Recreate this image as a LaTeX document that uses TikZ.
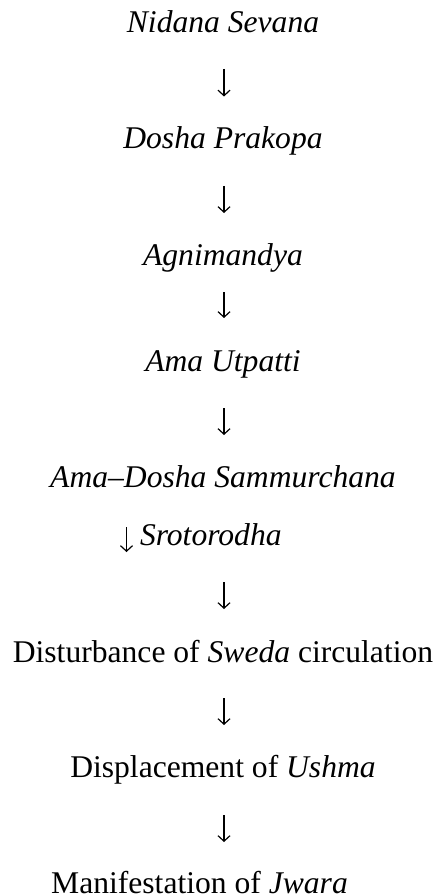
\documentclass[tikz,border=0pt]{standalone}
\usepackage{fontspec}
\usetikzlibrary{arrows.meta}
\setmainfont{Liberation Serif}
\begin{document}
\begin{tikzpicture}[x=1pt,y=-1pt,
  every node/.style={inner sep=0pt, outer sep=0pt, font=\fontsize{31.6}{38}\selectfont},
  stage/.style={anchor=base},
  flow/.style={line width=1.2pt, -{Straight Barb[length=5.5pt,width=12pt,line width=1.2pt]}}]
\useasboundingbox (0,0) rectangle (435,896);
\node[stage] (n1) at (223,33) {\textit{Nidana Sevana}};
\node[stage] (n2) at (223,149) {\textit{Dosha Prakopa}};
\node[stage] (n3) at (223,265) {\textit{Agnimandya}};
\node[stage] (n4) at (223,371) {\textit{Ama Utpatti}};
\node[stage] (n5) at (223,487) {\textit{Ama–Dosha Sammurchana}};
\node[anchor=base west] (s) at (140,545) {\textit{Srotorodha}};
\node[stage] (n6) at (223,662) {Disturbance of \textit{Sweda} circulation};
\node[stage] (n7) at (223,777) {Displacement of \textit{Ushma}};
\node[stage] (n8) at (199.5,893) {Manifestation of \textit{Jwara}};
\coordinate (a1t) at (224,69);  \coordinate (a1b) at (224,96.5);
\coordinate (a2t) at (224,186); \coordinate (a2b) at (224,213);
\coordinate (a3t) at (224,292); \coordinate (a3b) at (224,318);
\coordinate (a4t) at (224,408); \coordinate (a4b) at (224,435);
\coordinate (sat) at (126.5,527); \coordinate (sab) at (126.5,552);
\coordinate (a5t) at (224,582); \coordinate (a5b) at (224,609);
\coordinate (a6t) at (224,698); \coordinate (a6b) at (224,725);
\coordinate (a7t) at (224,815); \coordinate (a7b) at (224,842);
\draw[flow] (a1t) -- (a1b);
\draw[flow] (a2t) -- (a2b);
\draw[flow] (a3t) -- (a3b);
\draw[flow] (a4t) -- (a4b);
\draw[flow] (sat) -- (sab);
\draw[flow] (a5t) -- (a5b);
\draw[flow] (a6t) -- (a6b);
\draw[flow] (a7t) -- (a7b);
\end{tikzpicture}
\end{document}
